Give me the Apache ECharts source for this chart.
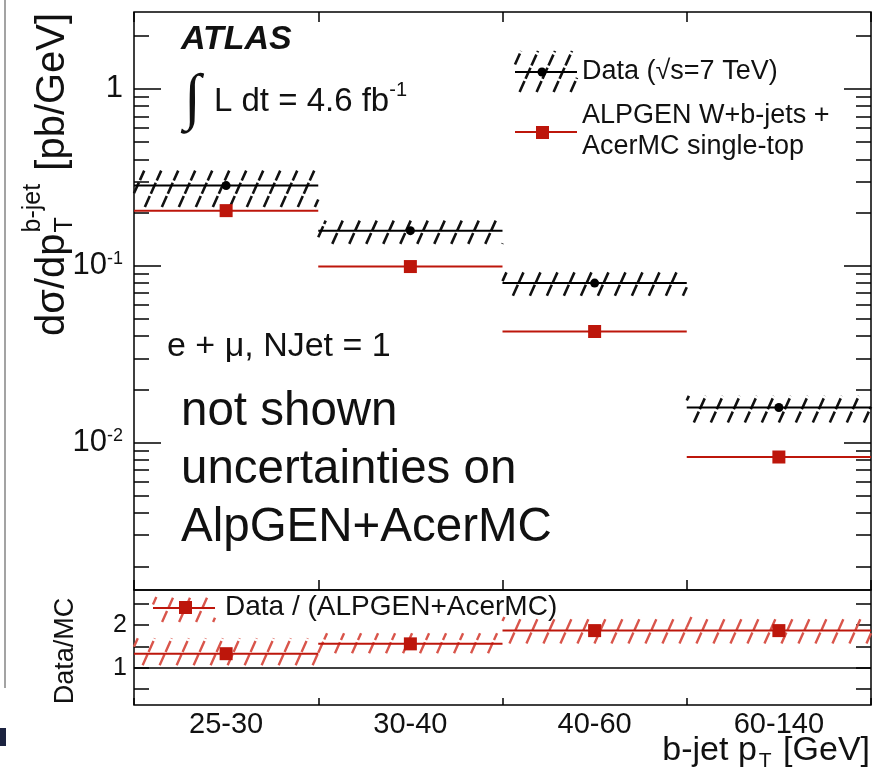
<!DOCTYPE html>
<html><head><meta charset="utf-8">
<script src="https://cdn.jsdelivr.net/npm/echarts@6/dist/echarts.min.js"></script>
<style>html,body{margin:0;padding:0;background:#fff}#c{width:894px;height:774px}</style>
</head><body><div id="c"></div>
<script>
// ---------------- data ----------------
const categories = ['25-30', '30-40', '40-60', '60-140'];
const dataValues = [0.284, 0.158, 0.0798, 0.0158];
const dataUncHigh = [0.345, 0.180, 0.0918, 0.0184];
const dataUncLow = [0.215, 0.133, 0.0677, 0.0130];
const mcValues = [0.205, 0.099, 0.0425, 0.0083];
const ratioValues = [1.33, 1.56, 1.87, 1.87];
const ratioUncHigh = [1.69, 1.81, 2.19, 2.19];
const ratioUncLow = [1.06, 1.34, 1.57, 1.57];
const mainMajorTicks = [0.01, 0.1, 1];
const mainMinorTicks = [0.002,0.003,0.004,0.005,0.006,0.007,0.008,0.009,
  0.02,0.03,0.04,0.05,0.06,0.07,0.08,0.09,0.2,0.3,0.4,0.5,0.6,0.7,0.8,0.9,2];
const ratioTicks = [0.5, 1, 1.5, 2, 2.5];
const ratioLabels = [1, 2];

// ---------------- helpers ----------------
const FONT = '"Liberation Sans", Arial, Helvetica, sans-serif';
const RED = '#bd160b';
const RED_HATCH = '#d9554b';
const INK = '#111';
const mctx = document.createElement('canvas').getContext('2d');
function tw(text, size, extra) { mctx.font = (extra || '') + ' ' + size + 'px ' + FONT; return mctx.measureText(text).width; }

const HS = 17, HCOT = 0.45;
function hatchSegs(x0, x1, y0, y1, style) {
  const out = [];
  const cmin = x0 + y0 * HCOT, cmax = x1 + y1 * HCOT;
  for (let n = Math.ceil(cmin / HS); n * HS <= cmax; n++) {
    const C = n * HS;
    const ya = Math.max(y0, (C - x1) / HCOT), yb = Math.min(y1, (C - x0) / HCOT);
    if (yb - ya > 0.5) out.push({type: 'line', shape: {x1: C - yb * HCOT, y1: yb, x2: C - ya * HCOT, y2: ya}, style: Object.assign({}, style)});
  }
  return out;
}
function binSpan(api, i, v) {
  const c = api.coord([i, v]);
  const c2 = api.coord([i === 0 ? 1 : i - 1, v]);
  const bw = Math.abs(c2[0] - c[0]);
  return [c[0] - bw / 2, c[0] + bw / 2, c[1]];
}
function hatchRender(style) {
  return function (params, api) {
    const i = api.value(0);
    const lo = binSpan(api, i, api.value(1));
    const hi = binSpan(api, i, api.value(2));
    return {type: 'group', children: hatchSegs(lo[0], lo[1], hi[2], lo[2], style)};
  };
}
function stepRender(color, width) {
  return function (params, api) {
    const s = binSpan(api, api.value(0), api.value(1));
    return {type: 'line', shape: {x1: s[0], y1: s[2], x2: s[1], y2: s[2]}, style: {stroke: color, lineWidth: width}};
  };
}

const blackHatch = {stroke: '#111', lineWidth: 2.6, lineDash: [12, 2.5], fill: null};
const redHatch = {stroke: RED_HATCH, lineWidth: 2.4, lineDash: [12, 2.5], fill: null};

// ---------------- axes ----------------
const tickStyle = {color: '#000', width: 1.5};
const logBase = {type: 'log', logBase: 10, min: 0.00147, max: 2.72, splitLine: {show: false}, axisLine: {show: false}};
function mainY(pos, len, ticks, labels) {
  return Object.assign({}, logBase, {
    gridIndex: 0, position: pos,
    axisTick: {show: true, inside: true, length: len, customValues: ticks, lineStyle: tickStyle},
    axisLabel: labels ? {
      show: true, customValues: mainMajorTicks, margin: 11,
      formatter: function (v) { const e = Math.round(Math.log10(v)); return e === 0 ? '{b|1}' : '{b|10}{s|' + e + '}'; },
      rich: {b: {fontSize: 31, fontFamily: FONT, color: INK}, s: {fontSize: 18, fontFamily: FONT, color: INK, verticalAlign: 'top', padding: [0, 0, 6, 0]}}
    } : {show: false}
  });
}
function ratioY(pos, labels) {
  return {
    gridIndex: 1, type: 'value', min: 0.13, max: 2.82, position: pos,
    splitLine: {show: false}, axisLine: {show: false},
    axisTick: {show: true, inside: true, length: 15, customValues: ratioTicks, lineStyle: tickStyle},
    axisLabel: labels ? {show: true, customValues: ratioLabels, margin: 7, fontSize: 25, fontFamily: FONT, color: INK} : {show: false}
  };
}
function catX(grid, pos, len, labels) {
  return {
    gridIndex: grid, type: 'category', data: categories, position: pos,
    axisLine: {show: false}, splitLine: {show: false},
    axisTick: {show: true, inside: true, length: len, lineStyle: tickStyle},
    axisLabel: labels ? {show: true, fontSize: 29, fontFamily: FONT, color: INK, margin: 5} : {show: false}
  };
}

// ---------------- text graphics ----------------
function txt(x, y, text, size, extra, opts) {
  return Object.assign({type: 'text', x: x, y: y, silent: true,
    style: {text: text, font: (extra || '') + ' ' + size + 'px ' + FONT, fill: INK, align: 'left', verticalAlign: 'middle'}}, opts || {});
}
const graphics = [];
// neighbouring-figure remnant at the left edge
graphics.push({type: 'line', silent: true, shape: {x1: 5, y1: 0, x2: 5, y2: 688}, style: {stroke: '#666', lineWidth: 1.2}});
graphics.push({type: 'rect', silent: true, shape: {x: 0, y: 728, width: 6, height: 18}, style: {fill: '#1c2340'}});
// ATLAS label
graphics.push(txt(181, 40, 'ATLAS', 34, 'italic bold'));
graphics.push({type: 'text', x: 184, y: 101, silent: true, style: {text: '\u222B', font: '62px "Liberation Serif", serif', fill: INK, align: 'left', verticalAlign: 'middle'}});
graphics.push(txt(214, 102, 'L dt = 4.6 fb', 33));
graphics.push(txt(214 + tw('L dt = 4.6 fb', 33), 90, '-1', 20));
// region label
graphics.push(txt(167, 347, 'e + \u03BC, NJet = 1', 34));
// annotation
graphics.push(txt(181, 412, 'not shown', 47.5));
graphics.push(txt(181, 470, 'uncertainties on', 47.5));
graphics.push(txt(181, 528, 'AlpGEN+AcerMC', 47.5));
// legend main: data
graphics.push({type: 'group', silent: true, children: hatchSegs(515, 577, 51, 92, blackHatch)});
graphics.push({type: 'line', silent: true, shape: {x1: 515, y1: 72, x2: 577, y2: 72}, style: {stroke: '#000', lineWidth: 2}});
graphics.push({type: 'circle', silent: true, shape: {cx: 542, cy: 72, r: 4.5}, style: {fill: '#000'}});
graphics.push(txt(582, 72, 'Data (\u221As=7 TeV)', 27));
// legend main: MC
graphics.push({type: 'line', silent: true, shape: {x1: 515, y1: 132, x2: 577, y2: 132}, style: {stroke: RED, lineWidth: 2}});
graphics.push({type: 'rect', silent: true, shape: {x: 536, y: 126, width: 13, height: 13}, style: {fill: RED}});
graphics.push(txt(582, 116, 'ALPGEN W+b-jets +', 27));
graphics.push(txt(582, 147, 'AcerMC single-top', 27));
// legend ratio
graphics.push({type: 'group', silent: true, children: hatchSegs(153, 215, 597, 622, redHatch)});
graphics.push({type: 'line', silent: true, shape: {x1: 153, y1: 608, x2: 215, y2: 608}, style: {stroke: RED, lineWidth: 2}});
graphics.push({type: 'rect', silent: true, shape: {x: 179, y: 601, width: 13, height: 13}, style: {fill: RED}});
graphics.push(txt(225, 607, 'Data / (ALPGEN+AcerMC)', 28));
// y title main (rotated)
(function () {
  const F = 40, fs = Math.round(F * 0.62);
  const w1 = tw('d\u03C3/dp', F), wsup = tw('b-jet', fs), wsub = tw('T', fs);
  graphics.push({type: 'group', x: 53, y: 336, rotation: Math.PI / 2, silent: true, children: [
    txt(0, 0, 'd\u03C3/dp', F),
    txt(w1 + 1, -F * 0.5, 'b-jet', fs),
    txt(w1 + 1, F * 0.3, 'T', fs),
    txt(w1 + 3 + Math.max(wsup, wsub), 0, ' [pb/GeV]', F)
  ]});
})();
// y title ratio
graphics.push({type: 'group', x: 66, y: 651, rotation: Math.PI / 2, silent: true, children: [
  {type: 'text', x: 0, y: 0, silent: true, style: {text: 'Data/MC', font: '27px ' + FONT, fill: INK, align: 'center', verticalAlign: 'middle'}}
]});
// x title
(function () {
  const F = 34, fs = Math.round(F * 0.62);
  const a = 'b-jet p', b = ' [GeV]';
  const wa = tw(a, F), wt = tw('T', fs), wb = tw(b, F);
  const x0 = 870 - (wa + wt + wb + 4);
  graphics.push(txt(x0, 751, a, F));
  graphics.push(txt(x0 + wa + 2, 761, 'T', fs));
  graphics.push(txt(x0 + wa + wt + 4, 751, b, F));
})();

// ---------------- chart ----------------
const chart = echarts.init(document.getElementById('c'), null, {renderer: 'canvas'});
chart.setOption({
  animation: false,
  backgroundColor: '#fff',
  grid: [
    {left: 134, right: 23, top: 12, height: 578, show: true, borderColor: '#000', borderWidth: 1.5, backgroundColor: 'transparent'},
    {left: 134, right: 23, top: 590, height: 115, show: true, borderColor: '#000', borderWidth: 1.5, backgroundColor: 'transparent'}
  ],
  xAxis: [catX(0, 'bottom', 10, false), catX(0, 'top', 10, false), catX(1, 'bottom', 7, true)],
  yAxis: [
    mainY('left', 27, mainMajorTicks, true), mainY('left', 15, mainMinorTicks, false),
    mainY('right', 27, mainMajorTicks, false), mainY('right', 15, mainMinorTicks, false),
    ratioY('left', true), ratioY('right', false)
  ],
  series: [
    {type: 'custom', name: 'Data uncertainty', xAxisIndex: 0, yAxisIndex: 0, z: 2,
      data: categories.map((c, i) => [i, dataUncLow[i], dataUncHigh[i]]), encode: {x: 0, y: [1, 2]},
      renderItem: hatchRender(blackHatch)},
    {type: 'custom', name: 'Data', xAxisIndex: 0, yAxisIndex: 0, z: 3,
      data: categories.map((c, i) => [i, dataValues[i]]), encode: {x: 0, y: 1},
      renderItem: stepRender('#000', 2)},
    {type: 'scatter', name: 'Data points', xAxisIndex: 0, yAxisIndex: 0, z: 5,
      data: dataValues, symbol: 'circle', symbolSize: 9, itemStyle: {color: '#000', opacity: 1}},
    {type: 'custom', name: 'MC', xAxisIndex: 0, yAxisIndex: 0, z: 3,
      data: categories.map((c, i) => [i, mcValues[i]]), encode: {x: 0, y: 1},
      renderItem: stepRender(RED, 2)},
    {type: 'scatter', name: 'MC points', xAxisIndex: 0, yAxisIndex: 0, z: 5,
      data: mcValues, symbol: 'rect', symbolSize: 13, itemStyle: {color: RED, opacity: 1}},
    {type: 'custom', name: 'Ratio uncertainty', xAxisIndex: 2, yAxisIndex: 4, z: 2,
      data: categories.map((c, i) => [i, ratioUncLow[i], ratioUncHigh[i]]), encode: {x: 0, y: [1, 2]},
      renderItem: hatchRender(redHatch)},
    {type: 'custom', name: 'Ratio', xAxisIndex: 2, yAxisIndex: 4, z: 3,
      data: categories.map((c, i) => [i, ratioValues[i]]), encode: {x: 0, y: 1},
      renderItem: stepRender(RED, 2)},
    {type: 'scatter', name: 'Ratio points', xAxisIndex: 2, yAxisIndex: 4, z: 5,
      data: ratioValues, symbol: 'rect', symbolSize: 13, itemStyle: {color: RED, opacity: 1},
      markLine: {silent: true, symbol: 'none', label: {show: false}, lineStyle: {color: '#000', type: 'solid', width: 1.5},
        data: [{yAxis: 1}]}}
  ],
  graphic: graphics
});
</script>
</body></html>
